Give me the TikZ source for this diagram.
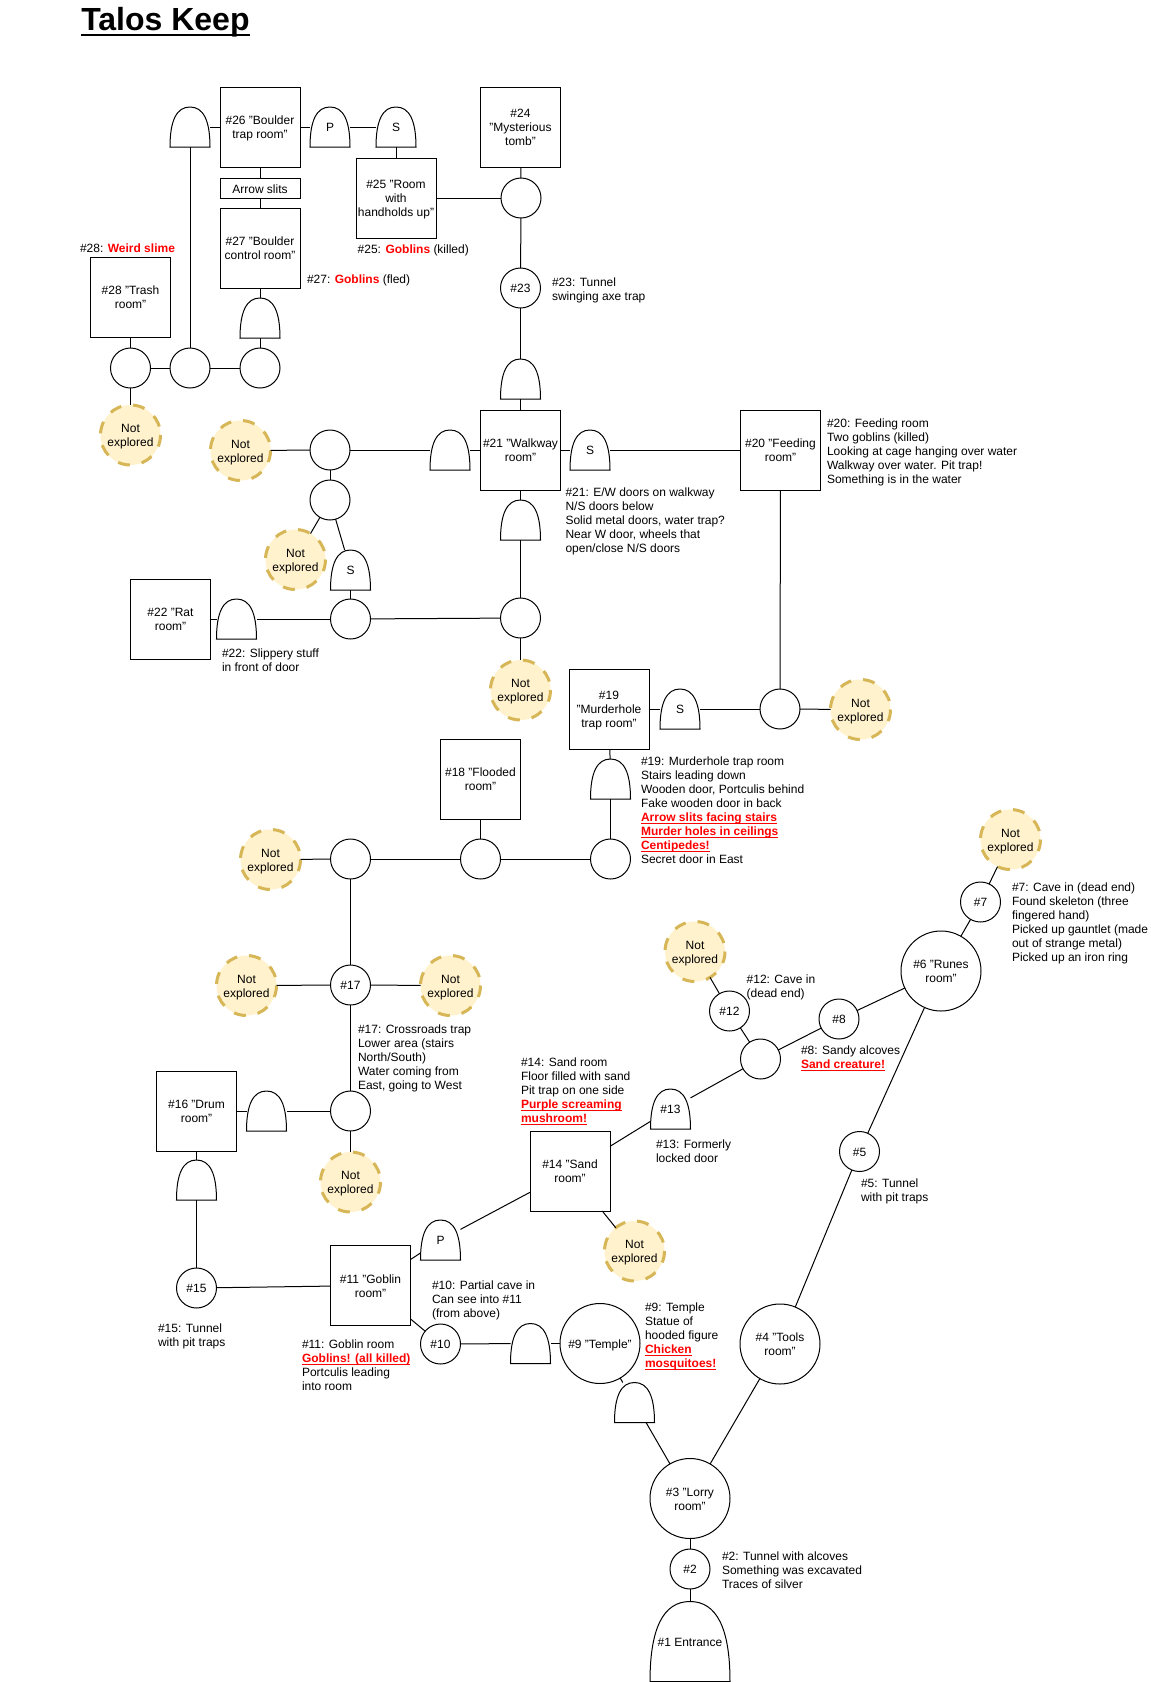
\documentclass[tikz,border=0pt]{standalone}
\usepackage{fontspec}
\setmainfont{Liberation Sans}
\definecolor{nefill}{HTML}{FFF2CC}
\definecolor{nedraw}{HTML}{D6B656}
\normallineskiplimit=-20pt
\lineskiplimit=-20pt
\newcommand\tightlines{\lineskiplimit -20pt\relax}
\newsavebox\ulsave
\newcommand\ulx[3]{\sbox\ulsave{#3}\rlap{\rule[-#1]{\wd\ulsave}{#2}}\usebox\ulsave}
\newcommand\redb[1]{{\bfseries\color{red}#1}}
\newcommand\redu[1]{{\bfseries\color{red}\ulx{1.8pt}{0.75pt}{#1}}}
\newcommand\Z{\rule[-1.8pt]{0pt}{10.5pt}}
\newcommand\NotExp{\Z Not\\\Z explored}
\newdimen\doorxa \newdimen\doorya \newdimen\doorw \newdimen\doorh
\makeatletter
\pgfdeclareshape{doorshape}{
  \inheritsavedanchors[from=rectangle]
  \inheritanchorborder[from=rectangle]
  \inheritanchor[from=rectangle]{center}
  \inheritanchor[from=rectangle]{north}
  \inheritanchor[from=rectangle]{south}
  \inheritanchor[from=rectangle]{east}
  \inheritanchor[from=rectangle]{west}
  \backgroundpath{
    \southwest \doorxa=\pgf@x \doorya=\pgf@y
    \northeast \doorw=\pgf@x \doorh=\pgf@y
    \advance\doorw by-\doorxa \advance\doorh by-\doorya
    \pgfpathmoveto{\pgfpoint{\doorxa}{\doorya}}
    \pgfpathcurveto{\pgfpoint{\doorxa}{\doorya+0.6667*\doorh}}
                   {\pgfpoint{\doorxa+0.1667*\doorw}{\doorya+\doorh}}
                   {\pgfpoint{\doorxa+0.5*\doorw}{\doorya+\doorh}}
    \pgfpathcurveto{\pgfpoint{\doorxa+0.8333*\doorw}{\doorya+\doorh}}
                   {\pgfpoint{\doorxa+\doorw}{\doorya+0.6667*\doorh}}
                   {\pgfpoint{\doorxa+\doorw}{\doorya}}
    \pgfpathclose
  }
}
\makeatother
\tikzset{
  base/.style={font=\fontsize{9}{10.5}\selectfont\tightlines,align=center,inner sep=0pt,outer sep=0pt,draw=black,line width=0.75pt,fill=white},
  room/.style={base,rectangle,minimum width=60pt,minimum height=60pt},
  slit/.style={base,rectangle,minimum width=60pt,minimum height=15pt},
  hub/.style={base,circle,minimum size=30pt},
  bigroom/.style={base,circle,minimum size=60pt},
  door/.style={base,shape=doorshape,minimum width=30pt,minimum height=30pt},
  bigdoor/.style={base,shape=doorshape,minimum width=60pt,minimum height=60pt},
  unseen/.style={base,circle,minimum size=45pt,fill=nefill,draw=nedraw,line width=2.25pt,dash pattern=on 9pt off 9pt,dash phase=11.6pt},
  note/.style={font=\fontsize{9}{10.5}\selectfont\tightlines,align=left,anchor=west,inner sep=0pt,outer sep=0pt},
  link/.style={draw=black,line width=0.75pt}
}
\begin{document}
\begin{tikzpicture}[x=0.75pt,y=-0.75pt]
\useasboundingbox (0,0) rectangle (1151,1682);
\node[anchor=base west,inner sep=0pt,font=\fontsize{24}{28}\selectfont\bfseries] (title) at (81,30.5) {\ulx{3.8pt}{1.5pt}{Talos Keep}};

% top area
\node[room] (r26) at (260,127) {\Z\#26 "Boulder\\\Z trap room"};
\node[door] (d26w) at (190,127) {};
\node[door] (d26p) at (330,127) {\Z P};
\node[door] (d26s) at (396,127) {\Z S};
\node[room] (r25) at (396,198) {\Z\#25 "Room\\with\\\Z handholds up"};
\node[room] (r24) at (520.5,127) {\Z\#24\\"Mysterious\\\Z tomb"};
\node[hub] (h24) at (521,198) {};
\node[hub] (r23) at (520.5,288) {\Z\#23};
\node[door] (d21n) at (520.5,379) {};
\node[room] (r21) at (520.5,450) {\Z\#21 "Walkway\\\Z room"};
\node[slit] (slits) at (260,188.5) {\Z Arrow slits};
\node[room] (r27) at (260,248) {\Z\#27 "Boulder\\\Z control room"};
\node[door] (d27) at (260,318) {};
\node[hub] (h27) at (260,368) {};
\node[hub] (h26) at (190,368) {};
\node[hub] (h28) at (130.5,368) {};
\node[room] (r28) at (130.5,297) {\Z\#28 "Trash\\\Z room"};
\node[unseen] (ne28) at (130.5,435) {\NotExp};

% walkway level
\node[unseen] (new) at (240.5,450.5) {\NotExp};
\node[hub] (hw) at (330,450) {};
\node[door] (d21w) at (450,450) {};
\node[door] (d21e) at (590,450) {\Z S};
\node[room] (r20) at (780.5,450) {\Z\#20 "Feeding\\\Z room"};
\node[hub] (hw2) at (330,500) {};
\node[unseen] (new2) at (295.5,559.5) {\NotExp};
\node[door] (dws) at (350.5,570) {\Z S};
\node[hub] (h22) at (350.5,619) {};
\node[door] (d22) at (236.5,619) {};
\node[room] (r22) at (170.5,619) {\Z\#22 "Rat\\\Z room"};
\node[door] (d21s) at (520.5,520) {};
\node[hub] (hs) at (520.5,618) {};
\node[unseen] (nes) at (520.5,690) {\NotExp};

% murderhole level
\node[room] (r19) at (609,709) {\Z\#19\\"Murderhole\\\Z trap room"};
\node[door] (d19e) at (680,709) {\Z S};
\node[hub] (h20) at (780,709) {};
\node[unseen] (ne20) at (860.5,709.5) {\NotExp};
\node[door] (d19s) at (610.5,779) {};
\node[hub] (h19) at (610.5,859) {};
\node[hub] (h18) at (480.5,859) {};
\node[room] (r18) at (480.5,779) {\Z\#18 "Flooded\\\Z room"};
\node[hub] (h17n) at (350.5,859) {};
\node[unseen] (ne17n) at (270.5,859.5) {\NotExp};
\node[hub] (r17) at (350.5,985) {\Z\#17};
\node[unseen] (ne17w) at (246.5,985.5) {\NotExp};
\node[unseen] (ne17e) at (450.5,985.5) {\NotExp};
\node[hub] (h16) at (350.5,1111) {};
\node[unseen] (ne16) at (350.5,1182) {\NotExp};
\node[door] (d16e) at (266.5,1111) {};
\node[room] (r16) at (196.5,1111) {\Z\#16 "Drum\\\Z room"};
\node[door] (d16s) at (196.5,1180) {};
\node[hub] (r15) at (196.5,1288) {\Z\#15};
\node[room] (r11) at (370.5,1285.5) {\Z\#11 "Goblin\\\Z room"};
\node[door] (d11) at (440.5,1240) {\Z P};
\node[room] (r14) at (570,1171) {\Z\#14 "Sand\\\Z room"};
\node[unseen] (ne14) at (634.5,1251) {\NotExp};
\node[hub] (r10) at (440.5,1344) {\Z\#10};
\node[door] (d9w) at (530.5,1343.5) {};
\node[bigroom] (r9) at (600,1343.5) {\Z\#9 "Temple"};
\node[door] (d9s) at (634.5,1402.5) {};
\node[bigroom] (r3) at (690,1498.5) {\Z\#3 "Lorry\\\Z room"};
\node[hub] (r2) at (690,1569) {\Z\#2};
\node[bigdoor] (r1) at (690,1641.5) {\Z\#1 Entrance};
\node[bigroom] (r4) at (780,1344) {\Z\#4 "Tools\\\Z room"};
\node[hub] (r5) at (859.5,1151.5) {\Z\#5};
\node[bigroom] (r6) at (941,971) {\Z\#6 "Runes\\\Z room"};
\node[hub] (r7) at (980.5,902) {\Z\#7};
\node[unseen] (ne7) at (1010.5,839.5) {\NotExp};
\node[hub] (r8) at (839,1019) {\Z\#8};
\node[hub] (hj) at (760.5,1059) {};
\node[hub] (r12) at (729.5,1011) {\Z\#12};
\node[unseen] (ne12) at (695,951.5) {\NotExp};
\node[door] (d13) at (670.5,1109) {\Z\#13};

% connectors
\foreach \a/\b in {d26w/r26,r26/d26p,d26p/d26s,d26s/r25,r26/slits,slits/r27,r27/d27,d27/h27,d26w/h26,h28/h26,h26/h27,r28/h28,h28/ne28,
  r25/h24,r24/h24,h24/r23,r23/d21n,d21n/r21,r21/d21w,d21w/hw,hw/new,hw/hw2,hw2/new2,hw2/dws,dws/h22,h22/d22,d22/r22,h22/hs,hs/d21s,d21s/r21,hs/nes,
  r21/d21e,d21e/r20,r20/h20,h20/ne20,h20/d19e,d19e/r19,r19/d19s,d19s/h19,h19/h18,h18/r18,h18/h17n,h17n/ne17n,h17n/r17,r17/ne17w,r17/ne17e,r17/h16,h16/ne16,h16/d16e,d16e/r16,r16/d16s,d16s/r15,r15/r11,
  r11/d11,d11/r14,r14/d13,r14/ne14,d13/hj,hj/r12,r12/ne12,hj/r8,r8/r6,r6/r7,r7/ne7,r6/r5,r5/r4,r4/r3,r3/d9s,d9s/r9,r9/d9w,d9w/r10,r10/r11,r3/r2,r2/r1}
  {\draw[link] (\a) -- (\b);}

% notes
\node[note] (n28) at (80,247.7) {\Z\#28: \redb{Weird slime}};
\node[note] (n25) at (357.7,248.7) {\Z\#25: \redb{Goblins} (killed)};
\node[note] (n27) at (307,278.7) {\Z\#27: \redb{Goblins} (fled)};
\node[note] (n23) at (552,288.7) {\Z\#23: Tunnel\\\Z swinging axe trap};
\node[note] (n20) at (827,450.7) {\Z\#20: Feeding room\\Two goblins (killed)\\Looking at cage hanging over water\\Walkway over water. Pit trap!\\\Z Something is in the water};
\node[note] (n21) at (565.5,519.7) {\Z\#21: E/W doors on walkway\\N/S doors below\\Solid metal doors, water trap?\\Near W door, wheels that\\\Z open/close N/S doors};
\node[note] (n22) at (222,659.7) {\Z\#22: Slippery stuff\\\Z in front of door};
\node[note] (n19) at (641,809.7) {\Z\#19: Murderhole trap room\\Stairs leading down\\Wooden door, Portculis behind\\Fake wooden door in back\\\redu{Arrow slits facing stairs}\\\redu{Murder holes in ceilings}\\\redu{Centipedes!}\\\Z Secret door in East};
\node[note] (n7) at (1012,921.7) {\Z\#7: Cave in (dead end)\\Found skeleton (three\\fingered hand)\\Picked up gauntlet (made\\out of strange metal)\\\Z Picked up an iron ring};
\node[note] (n12) at (746.7,985.7) {\Z\#12: Cave in\\\Z(dead end)};
\node[note] (n8) at (801,1056.7) {\Z\#8: Sandy alcoves\\\Z\redu{Sand creature!}};
\node[note] (n13) at (656,1150.7) {\Z\#13: Formerly\\\Z locked door};
\node[note] (n5) at (861,1189.7) {\Z\#5: Tunnel\\\Z with pit traps};
\node[note] (n17) at (358,1056.7) {\Z\#17: Crossroads trap\\Lower area (stairs\\North/South)\\Water coming from\\\Z East, going to West};
\node[note] (n14) at (521,1089.7) {\Z\#14: Sand room\\Floor filled with sand\\Pit trap on one side\\\redu{Purple screaming}\\\Z\redu{mushroom!}};
\node[note] (n15) at (158,1334.7) {\Z\#15: Tunnel\\\Z with pit traps};
\node[note] (n11) at (302,1364.7) {\Z\#11: Goblin room\\\redu{Goblins! (all killed)}\\Portculis leading\\\Z into room};
\node[note] (n10) at (432,1298.7) {\Z\#10: Partial cave in\\Can see into \#11\\\Z(from above)};
\node[note] (n9) at (645,1334.7) {\Z\#9: Temple\\Statue of\\hooded figure\\\redu{Chicken}\\\Z\redu{mosquitoes!}};
\node[note] (n2) at (722,1569.7) {\Z\#2: Tunnel with alcoves\\Something was excavated\\\Z Traces of silver};
\end{tikzpicture}
\end{document}
